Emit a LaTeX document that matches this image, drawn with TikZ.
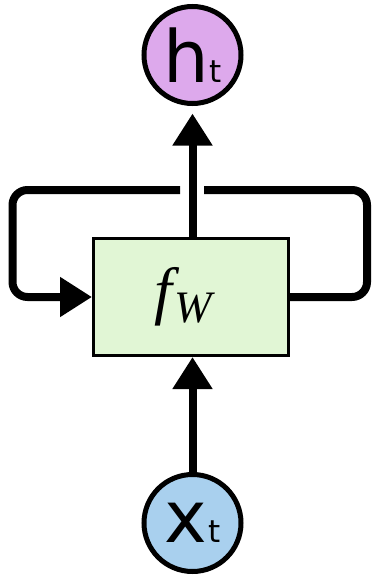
\documentclass[tikz,border=0pt]{standalone}
\usepackage{fontspec}
\newfontfamily\dejavu{DejaVu Sans}
\newfontfamily\serifit{Liberation Serif}
\usetikzlibrary{arrows.meta}
\definecolor{hcol}{HTML}{DDA9EC}
\definecolor{xcol}{HTML}{A9D0EE}
\definecolor{fcol}{HTML}{E1F6D5}
\begin{document}
\begin{tikzpicture}[x=1pt,y=-1pt,
  circ/.style={circle,draw=black,line width=5pt,minimum size=97pt,inner sep=0pt,outer sep=0pt},
  cell/.style={rectangle,draw=black,fill=fcol,line width=3pt,minimum width=195pt,minimum height=117pt,inner sep=0pt,outer sep=0pt},
  conn/.style={line width=8pt,draw=black},
  tipped/.style={-{Triangle[length=32pt,width=38pt]}}]
\useasboundingbox (0,0) rectangle (372,575);
\node[circ,fill=hcol] (h) at (192.5,55) {\dejavu\fontsize{72}{72}\selectfont h\kern1pt\fontsize{31}{31}\selectfont t};
\node[circ,fill=xcol] (x) at (192.5,523) {\dejavu\fontsize{72}{72}\selectfont x\kern1pt\fontsize{31}{31}\selectfont t};
\node[cell] (f) at (191,297) {\hspace*{-16pt}\serifit\itshape\fontsize{64}{64}\selectfont f\kern2pt\raisebox{-10pt}{\fontsize{45}{45}\selectfont W}};
\coordinate (lg) at (180,190);
\coordinate (rg) at (204,190);
\coordinate (ltop) at (12.5,190);
\coordinate (rtop) at (367,190);
\draw[conn,tipped,shorten >=10pt] (f.north -| h.south) -- (h.south);
\draw[conn,tipped,shorten >=1.5pt] (x.north) -- (x.north |- f.south);
\draw[conn,tipped,rounded corners=15pt,shorten >=1.5pt] (lg) -- (ltop) -- (ltop |- f.west) -- (f.west);
\draw[conn,rounded corners=15pt] (f.east) -- (rtop |- f.east) -- (rtop) -- (rg);
\end{tikzpicture}
\end{document}
